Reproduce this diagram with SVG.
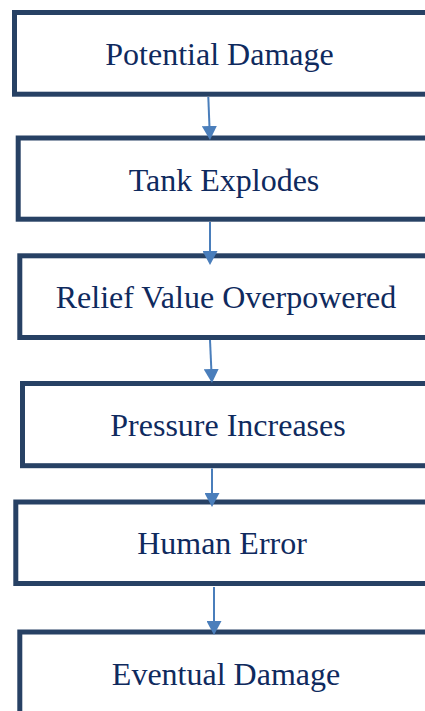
<svg xmlns="http://www.w3.org/2000/svg" width="425" height="711" viewBox="0 0 425 711">
  <style>
    .box { fill: #ffffff; stroke: #274164; stroke-width: 5; }
    .label { font-family: "Liberation Serif", "Times New Roman", serif; font-size: 32px; fill: #0f2a5e; text-anchor: middle; }
    .flow { stroke: #4a7ebb; stroke-width: 2; fill: none; marker-end: url(#head); }
  </style>
  <defs>
    <marker id="head" markerUnits="userSpaceOnUse" markerWidth="15" markerHeight="15" refX="4" refY="7.5" orient="auto">
      <path d="M0,0 L14,7.5 L0,15 z" fill="#4a7ebb"/>
    </marker>
  </defs>
  <rect x="0" y="0" width="425" height="711" fill="#ffffff"/>

  <g id="potential-damage">
    <rect class="box" x="14.5" y="12.5" width="440" height="81.7"/>
    <text class="label" x="219.5" y="65">Potential Damage</text>
  </g>
  <g id="tank-explodes">
    <rect class="box" x="18.2" y="138" width="440" height="81.2"/>
    <text class="label" x="224" y="190.7">Tank Explodes</text>
  </g>
  <g id="relief-value">
    <rect class="box" x="19.8" y="255.8" width="440" height="81.7"/>
    <text class="label" x="226" y="308">Relief Value Overpowered</text>
  </g>
  <g id="pressure-increases">
    <rect class="box" x="22.5" y="383.5" width="440" height="82.2"/>
    <text class="label" x="228" y="436">Pressure Increases</text>
  </g>
  <g id="human-error">
    <rect class="box" x="15.8" y="502" width="440" height="81.5"/>
    <text class="label" x="222" y="554">Human Error</text>
  </g>
  <g id="eventual-damage">
    <rect class="box" x="19.8" y="632" width="440" height="120"/>
    <text class="label" x="226" y="685">Eventual Damage</text>
  </g>

  <g id="connectors">
    <line class="flow" x1="208.3" y1="97" x2="209.6" y2="130"/>
    <line class="flow" x1="210" y1="222" x2="210" y2="255"/>
    <line class="flow" x1="210" y1="340" x2="211.5" y2="373"/>
    <line class="flow" x1="212" y1="468.5" x2="212" y2="497"/>
    <line class="flow" x1="214" y1="587" x2="214" y2="625"/>
  </g>
</svg>
